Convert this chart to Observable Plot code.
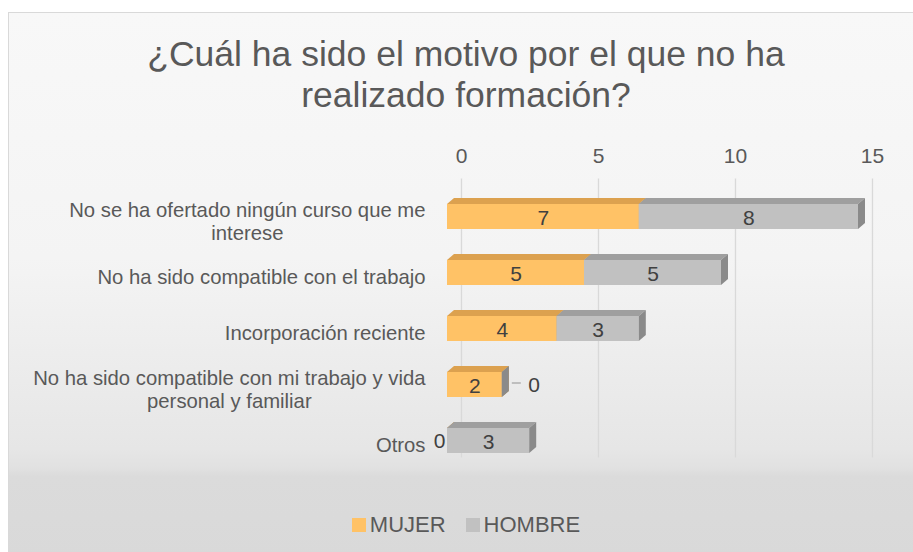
<!DOCTYPE html>
<html>
<head>
<meta charset="utf-8">
<script src="https://cdn.jsdelivr.net/npm/d3@7"></script>
<script src="https://cdn.jsdelivr.net/npm/@observablehq/plot@0.6"></script>
<style>
  html, body { margin: 0; padding: 0; background: #ffffff; width: 913px; height: 552px; overflow: hidden; }
  body { position: relative; font-family: "Liberation Sans", Arial, sans-serif; }
  #frame { position: absolute; left: 8px; top: 12px; width: 916px; height: 545px;
    border: 1px solid #d9d9d9;
    background: linear-gradient(to bottom, #f8f8f8 0%, #f4f4f4 45%, #e6e6e6 80%, #e1e1e1 83.5%, #dbdbdb 85%, #d9d9d9 100%); }
  #title { position: absolute; left: 8px; width: 916px; top: 34px; text-align: center;
    font-size: 35.5px; line-height: 41px; color: #595959; }
  #chart { position: absolute; left: 0; top: 130px; }
  #legend { position: absolute; left: 8px; width: 916px; top: 505px; height: 40px;
    display: flex; justify-content: center; align-items: center; font-size: 22px; color: #595959; }
  .item { display: flex; align-items: center; margin: 0 10px; }
  .sw { width: 14px; height: 14px; margin-right: 4px; }
</style>
</head>
<body>
<div id="frame"></div>
<div id="title">¿Cuál ha sido el motivo por el que no ha<br>realizado formación?</div>
<div id="chart"></div>
<div id="legend"></div>
<script>
// ---- data ----
const categories = [
  "No se ha ofertado ningún curso que me interese",
  "No ha sido compatible con el trabajo",
  "Incorporación reciente",
  "No ha sido compatible con mi trabajo y vida personal y familiar",
  "Otros"
];
const categoryLabels = [
  "No se ha ofertado ningún curso que me\ninterese",
  "No ha sido compatible con el trabajo",
  "Incorporación reciente",
  "No ha sido compatible con mi trabajo y vida\npersonal y familiar",
  "Otros"
];
const mujer = [7, 5, 4, 2, 0];
const hombre = [8, 5, 3, 0, 3];
const xTicks = [0, 5, 10, 15];
const seriesNames = ["MUJER", "HOMBRE"];

// ---- styles ----
const colors = {
  MUJER: {front: "#ffc266", top: "#dca14f", side: "#c98f3e"},
  HOMBRE: {front: "#c1c1c1", top: "#9f9f9f", side: "#8a8a8a"}
};
const DX = 7, DY = 6;

// ---- derived table ----
const rows = [];
categories.forEach((c, i) => {
  rows.push({cat: c, series: "MUJER", x1: 0, x2: mujer[i], value: mujer[i]});
  rows.push({cat: c, series: "HOMBRE", x1: mujer[i], x2: mujer[i] + hombre[i], value: hombre[i]});
});
const labelOf = new Map(categories.map((c, i) => [c, categoryLabels[i]]));

function depthFaces(series) {
  const data = rows.filter(d => d.series === series);
  const col = colors[series];
  return (index, scales) => {
    const {x, y} = scales;
    const bw = y.bandwidth();
    const g = d3.create("svg:g");
    for (const d of data) {
      const a = x(d.x1), b = x(d.x2);
      const y1 = y(d.cat), y2 = y1 + bw;
      g.append("polygon")
        .attr("points", [[a, y1], [a + DX, y1 - DY], [b + DX, y1 - DY], [b, y1]].join(" "))
        .attr("fill", col.top);
      g.append("polygon")
        .attr("points", [[b, y1], [b + DX, y1 - DY], [b + DX, y2 - DY], [b, y2]].join(" "))
        .attr("fill", col.side);
    }
    return g.node();
  };
}

function frontBars(series) {
  return Plot.barX(rows.filter(d => d.series === series), {
    x1: "x1", x2: "x2", y: "cat", fill: colors[series].front
  });
}

const plot = Plot.plot({
  width: 913,
  height: 370,
  marginLeft: 447,
  marginRight: 55,
  marginTop: 46.4,
  marginBottom: 18.4,
  style: {background: "transparent", color: "#595959", fontFamily: "'Liberation Sans', Arial, sans-serif"},
  x: {domain: [0, 15], axis: null},
  y: {domain: categories, paddingInner: 0.55, paddingOuter: 0.5, axis: null},
  marks: [
    Plot.ruleX(xTicks, {x: d => d, dx: 14, stroke: "#d9d9d9", strokeWidth: 1.3, insetTop: 2, insetBottom: 24}),
    Plot.axisX({anchor: "top", ticks: xTicks, tickSize: 0, tickPadding: 14, dx: 14, fontSize: 21, label: null, tickFormat: d => String(d)}),
    Plot.text(categories, {
      y: d => d, text: d => labelOf.get(d), frameAnchor: "left", textAnchor: "end",
      dx: -22, dy: 4, fontSize: 20.3, lineHeight: 1.15, fill: "#595959"
    }),
    frontBars("MUJER"),
    depthFaces("MUJER"),
    frontBars("HOMBRE"),
    depthFaces("HOMBRE"),
    // value labels (non-zero, centered)
    Plot.text(rows.filter(d => d.value > 0), {
      x: d => (d.x1 + d.x2) / 2, y: "cat", text: d => String(d.value), fontSize: 21, dy: 1, fill: "#404040"
    }),
    // zero MUJER label: left of the bar
    Plot.text(rows.filter(d => d.value === 0 && d.series === "MUJER"), {
      x: "x1", y: "cat", text: d => String(d.value), textAnchor: "end", dx: -2, fontSize: 21, fill: "#404040"
    }),
    // zero HOMBRE label: right of bar with leader line
    Plot.ruleY(rows.filter(d => d.value === 0 && d.series === "HOMBRE"), {
      y: "cat", x1: "x2", x2: "x2", insetLeft: 10, insetRight: -19, dy: -2, stroke: "#a6a6a6", strokeWidth: 1.3
    }),
    Plot.text(rows.filter(d => d.value === 0 && d.series === "HOMBRE"), {
      x: "x2", y: "cat", text: d => String(d.value), textAnchor: "start", dx: 26, fontSize: 21, fill: "#404040"
    })
  ]
});
document.getElementById("chart").append(plot);

// center multi-line category labels (Excel-style wrapped labels)
plot.querySelectorAll("text").forEach(t => {
  const spans = Array.from(t.querySelectorAll("tspan"));
  if (spans.length > 1) {
    const w = spans.map(s => s.getComputedTextLength());
    const W = Math.max(...w);
    spans.forEach((s, i) => s.setAttribute("dx", -(W - w[i]) / 2));
  }
});

// legend
const legend = d3.select("#legend");
for (const s of seriesNames) {
  const it = legend.append("div").attr("class", "item");
  it.append("div").attr("class", "sw").style("background", colors[s].front);
  it.append("span").text(s);
}
</script>
</body>
</html>
